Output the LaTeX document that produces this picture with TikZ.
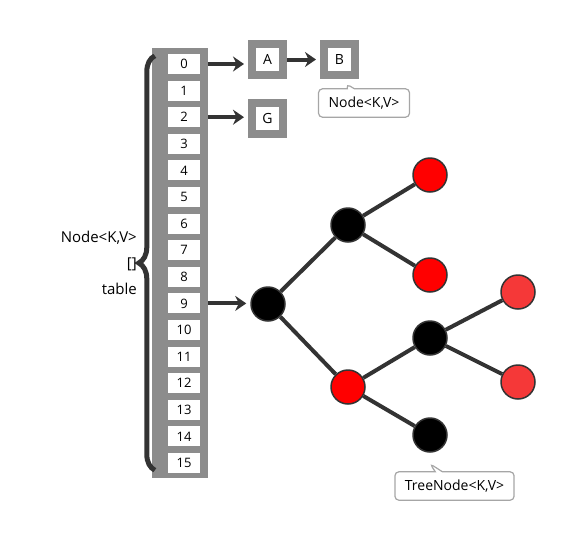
\documentclass[tikz,border=0pt]{standalone}
\usepackage{fontspec}
\setmainfont{Open Sans}
\usetikzlibrary{arrows.meta, calc, shapes.callouts, decorations.pathreplacing}
\definecolor{linegray}{HTML}{333333}
\definecolor{boxgray}{HTML}{8C8C8C}
\definecolor{redA}{HTML}{FF0000}
\definecolor{redB}{HTML}{F53838}

\begin{document}
\begin{tikzpicture}[x=1pt, y=-1pt,
                cell/.style={fill=white, minimum width=32pt, minimum height=20pt,
                  inner sep=0pt, font=\fontsize{13}{13}\selectfont},
                entry/.style={draw=boxgray, line width=8pt, fill=white, minimum size=31pt,
                  inner sep=0pt, font=\fontsize{14}{14}\selectfont},
                ptr/.style={draw=linegray, line width=4pt, shorten >=4pt,
                  -{Stealth[length=11pt,width=15pt]}},
                link/.style={draw=linegray, line width=4pt},
                blk/.style={circle, fill=black, draw=linegray, line width=1.5pt,
                  minimum size=34pt, inner sep=0pt},
                rd/.style={blk, fill=redA},
                rd2/.style={blk, fill=redB},
                note/.style={rectangle callout, fill=white, draw=gray!70, rounded corners=4pt,
                  line width=1.2pt, inner xsep=10pt, inner ysep=8pt,
                  font=\fontsize{14}{14}\selectfont}
                ]
  \useasboundingbox (0,0) rectangle (569,533);

  % the bucket array
  \node[fill=boxgray, minimum width=56pt, minimum height=430pt, inner sep=0pt] (tab) at (180,263) {};
  \foreach \i in {0,...,15}
    \node[cell] (c\i) at (184,{64+26.6*\i}) {\i};
  \draw[linegray, line width=5pt, decorate, decoration={brace, amplitude=16pt}]
    ($(tab.south west)+(3,-8)$) -- ($(tab.north west)+(3,8)$);
  \node[align=right, anchor=east, inner sep=0pt, font=\fontsize{15}{26}\selectfont] (lbl)
    at (137,263) {Node<K,V>\\{[]}\\table};

  % linked list
  \node[entry] (A) at (267.5,59.5) {A};
  \node[entry] (B) at (339.5,59.5) {B};
  \node[entry] (G) at (267.5,118) {G};
  \draw[ptr] (c0 -| tab.east) -- (c0 -| A.west);
  \draw[ptr] (A) -- (B);
  \draw[ptr] (c2 -| tab.east) -- (c2 -| G.west);
  \node[note, callout absolute pointer={($(B.south)+(7,5)$)}] (nnode) at (364,103) {Node<K,V>};

  % red-black tree
  \node[blk] (r) at (268,304) {};
  \node[blk] (b1) at (348,225) {};
  \node[rd] (t1) at (430,175) {};
  \node[rd] (t2) at (430,275) {};
  \node[rd] (m) at (348,387) {};
  \node[blk] (bm) at (430,338) {};
  \node[blk] (bb) at (430,435) {};
  \node[rd2] (q1) at (518,292) {};
  \node[rd2] (q2) at (518,382) {};
  \draw[ptr] (c9 -| tab.east) -- (c9 -| r.west);
  \draw[link] (r) -- (b1);
  \draw[link] (r) -- (m);
  \draw[link] (b1) -- (t1);
  \draw[link] (b1) -- (t2);
  \draw[link] (m) -- (bm);
  \draw[link] (m) -- (bb);
  \draw[link] (bm) -- (q1);
  \draw[link] (bm) -- (q2);
  \node[note, callout absolute pointer={($(bb.south)+(0,11)$)}] (ntree) at (454.5,486) {TreeNode<K,V>};
\end{tikzpicture}
\end{document}
